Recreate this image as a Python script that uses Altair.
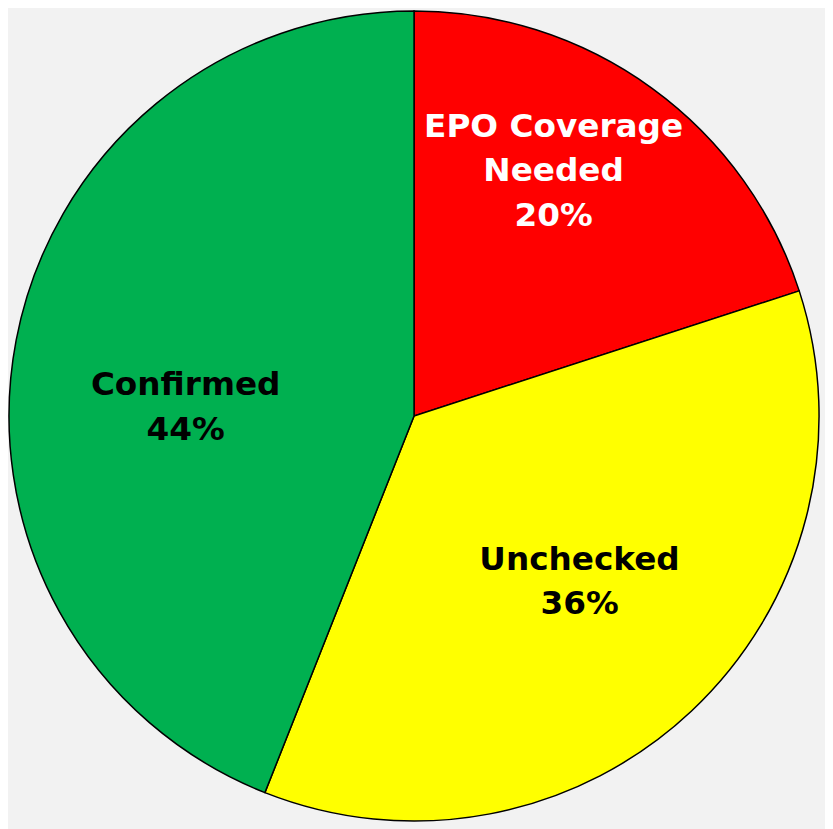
import altair as alt
import pandas as pd

categories = ["EPO Coverage Needed", "Unchecked", "Confirmed"]
values = [20, 36, 44]
labels = ["EPO Coverage\nNeeded\n20%", "Unchecked\n36%", "Confirmed\n44%"]
colors = ["#ff0000", "#ffff00", "#00b050"]
label_colors = ["#ffffff", "#000000", "#000000"]

df = pd.DataFrame({"category": categories, "value": values, "label": labels,
                   "order": [0, 1, 2]})

cx, cy, r = 410, 408, 409

base = alt.Chart(df).encode(
    theta=alt.Theta("value:Q", stack=True),
    order=alt.Order("order:Q"),
)

pie = base.mark_arc(stroke="black", strokeWidth=1.5, outerRadius=r).encode(
    color=alt.Color("category:N", scale=alt.Scale(domain=categories, range=colors), legend=None),
    x=alt.value(cx), y=alt.value(cy),
)

offsets = {"EPO Coverage Needed": (-6, -90), "Unchecked": (-4, -37), "Confirmed": (15, 16)}
texts = []
for cat, lc in zip(categories, label_colors):
    dx, dy = offsets[cat]
    t = base.mark_text(radius=250, dx=dx, dy=dy, lineBreak="\n", fontSize=33,
                       font="DejaVu Sans", fontWeight="bold", color=lc,
                       baseline="middle", align="center", lineHeight=45).encode(
        text=alt.condition(alt.datum.category == cat, "label:N", alt.value("")),
        x=alt.value(cx), y=alt.value(cy),
    )
    texts.append(t)

chart = alt.layer(pie, *texts).properties(
    width=825, height=821, padding=0, background="#f2f2f2",
    autosize=alt.AutoSizeParams(type="none"),
).configure_view(stroke=None)

chart.save("out.html", embed_options={"renderer": "svg", "actions": False})
